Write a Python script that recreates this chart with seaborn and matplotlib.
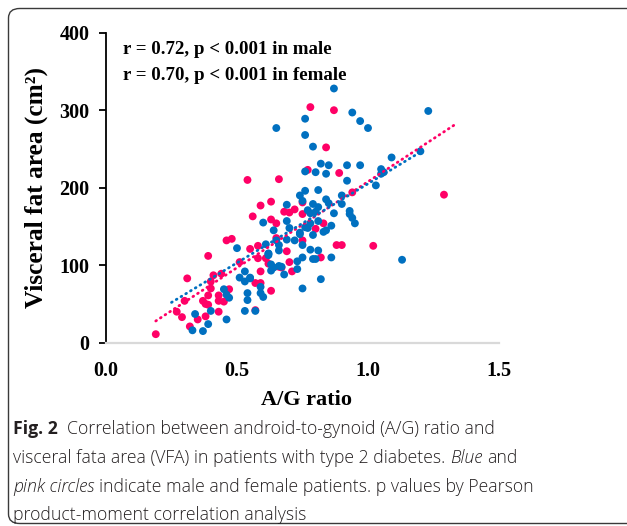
import numpy as np
import pandas as pd
import matplotlib
matplotlib.use("Agg")
import matplotlib.pyplot as plt
import seaborn as sns
from matplotlib.patches import FancyBboxPatch

# ---------------- data ----------------
male_ag = [0.33, 0.34, 0.37, 0.39, 0.40, 0.45, 0.46, 0.46, 0.47, 0.50,
           0.51, 0.53, 0.53, 0.53, 0.54, 0.54, 0.55, 0.55, 0.57, 0.59,
           0.59, 0.60, 0.60, 0.61, 0.62, 0.62, 0.62, 0.63, 0.63, 0.64,
           0.64, 0.65, 0.65, 0.66, 0.66, 0.66, 0.67, 0.68, 0.69, 0.69,
           0.69, 0.70, 0.72, 0.73, 0.73, 0.74, 0.74, 0.74, 0.75, 0.75,
           0.75, 0.75, 0.76, 0.76, 0.76, 0.76, 0.76, 0.77, 0.77, 0.78,
           0.78, 0.78, 0.79, 0.79, 0.79, 0.79, 0.80, 0.80, 0.80, 0.81,
           0.81, 0.81, 0.81, 0.82, 0.82, 0.83, 0.84, 0.84, 0.84, 0.85,
           0.85, 0.86, 0.86, 0.87, 0.87, 0.90, 0.90, 0.92, 0.92, 0.93,
           0.94, 0.93, 0.95, 0.94, 0.97, 0.97, 1.00, 1.03, 1.05, 1.05,
           1.06, 1.09, 1.13, 1.20, 1.23]
male_vfa = [16, 37, 15, 24, 41, 69, 62, 30, 58, 122,
            84, 41, 79, 92, 55, 64, 84, 83, 41, 72,
            64, 59, 155, 127, 115, 113, 115, 101, 93, 145,
            97, 132, 277, 99, 126, 119, 98, 88, 178, 157,
            133, 148, 132, 105, 95, 142, 190, 140, 126, 183,
            70, 110, 149, 289, 268, 221, 196, 148, 171, 167,
            120, 154, 253, 139, 179, 108, 108, 220, 169, 175,
            119, 197, 157, 231, 82, 143, 145, 218, 185, 229,
            180, 110, 151, 328, 167, 190, 179, 229, 209, 170,
            297, 166, 154, 161, 229, 286, 277, 203, 224, 218,
            220, 239, 107, 247, 299]

female_ag = [0.19, 0.27, 0.29, 0.30, 0.31, 0.32, 0.35, 0.37, 0.38, 0.38,
             0.39, 0.39, 0.39, 0.40, 0.40, 0.41, 0.43, 0.43, 0.43, 0.45,
             0.44, 0.46, 0.48, 0.47, 0.51, 0.54, 0.55, 0.56, 0.57, 0.57,
             0.58, 0.58, 0.59, 0.59, 0.59, 0.61, 0.62, 0.63, 0.63, 0.63,
             0.65, 0.65, 0.66, 0.66, 0.67, 0.68, 0.69, 0.70, 0.70, 0.72,
             0.71, 0.75, 0.75, 0.75, 0.78, 0.77, 0.80, 0.82, 0.83, 0.84,
             0.87, 0.88, 0.90, 0.89, 0.94, 1.02, 1.29]
female_vfa = [11, 40, 33, 54, 83, 21, 30, 54, 34, 50,
              49, 112, 61, 70, 79, 87, 40, 61, 54, 53,
              89, 132, 134, 69, 104, 210, 121, 163, 77, 42,
              125, 109, 92, 177, 77, 109, 102, 182, 67, 159,
              135, 154, 98, 211, 97, 169, 118, 104, 168, 172,
              92, 132, 181, 166, 304, 223, 147, 110, 154, 252,
              300, 126, 126, 219, 194, 125, 191]

# linear trend lines as drawn in the reference (start / end values)
male_trend_ag = [0.25, 1.21]
male_trend_vfa = [52, 248]
female_trend_ag = [0.19, 1.33]
female_trend_vfa = [28, 281]

x_ticks = [0.0, 0.5, 1.0, 1.5]
x_tick_labels = ["0.0", "0.5", "1.0", "1.5"]
y_ticks = [0, 100, 200, 300, 400]
y_tick_labels = ["0", "100", "200", "300", "400"]

stat_lines = ["r = 0.72, p < 0.001 in male",
              "r = 0.70, p < 0.001 in female"]

BLUE = "#0070C0"
PINK = "#FF0066"

df = pd.DataFrame({
    "ag": female_ag + male_ag,
    "vfa": female_vfa + male_vfa,
    "sex": ["Female"] * len(female_ag) + ["Male"] * len(male_ag),
})
trend_df = pd.DataFrame({
    "ag": female_trend_ag + male_trend_ag,
    "vfa": female_trend_vfa + male_trend_vfa,
    "sex": ["Female"] * 2 + ["Male"] * 2,
})

# ---------------- figure ----------------
sns.set_theme(style="white")
W, H = 627, 526
fig = plt.figure(figsize=(W / 100, H / 100), dpi=100)
fig.patch.set_facecolor("white")

# outer rounded frame
frame = FancyBboxPatch((8.5 / W, 2.5 / H), (W + 30) / W, (H - 11) / H,
                       boxstyle="round,pad=0,rounding_size=0.018",
                       transform=fig.transFigure, fill=False,
                       edgecolor="#3a3a3a", linewidth=1.0, clip_on=False)
fig.patches.append(frame)

ax = fig.add_axes([106 / W, 183.3 / H, 393 / W, 310 / H])
ax.set_facecolor("white")

sns.scatterplot(data=df, x="ag", y="vfa", hue="sex",
                palette={"Female": PINK, "Male": BLUE},
                hue_order=["Female", "Male"], s=32, linewidth=0,
                alpha=1.0, legend=False, ax=ax, zorder=3)

for sex, col in [("Female", PINK), ("Male", BLUE)]:
    sub = trend_df[trend_df["sex"] == sex]
    ax.plot(sub["ag"], sub["vfa"], color=col, linewidth=2.0,
            linestyle=(0, (0.3, 1.7)), dash_capstyle="round", zorder=4)

ax.set_xlim(0, 1.5)
ax.set_ylim(0, 400)
ax.set_xticks(x_ticks)
ax.set_xticklabels(x_tick_labels)
ax.set_yticks(y_ticks)
ax.set_yticklabels(y_tick_labels)

serif = ["Liberation Serif", "DejaVu Serif"]
for lab in ax.get_xticklabels() + ax.get_yticklabels():
    lab.set_fontfamily(serif)
    lab.set_fontweight("bold")
    lab.set_fontsize(14.5)
    lab.set_color("black")

ax.tick_params(axis="y", direction="out", length=5, width=1.3,
               color="black", left=True, pad=7)
ax.tick_params(axis="x", length=0, pad=13)

for side in ["top", "right"]:
    ax.spines[side].set_visible(False)
ax.spines["left"].set_color("black")
ax.spines["left"].set_linewidth(1.3)
ax.spines["bottom"].set_color("#d9d9d9")
ax.spines["bottom"].set_linewidth(1.6)
ax.grid(False)

ax.set_xlabel("A/G ratio", fontfamily=serif, fontweight="bold",
              fontsize=16, color="black")
ax.set_ylabel("Visceral fat area (cm²)", fontfamily=serif,
              fontweight="bold", fontsize=18.3, color="black")
ax.xaxis.set_label_coords(0.511, -0.153)
ax.yaxis.set_label_coords(-0.148, 0.5)

ax.text(0.043, 0.945, stat_lines[0], transform=ax.transAxes,
        fontfamily=serif, fontweight="bold", fontsize=13.6, va="center",
        ha="left", color="black")
ax.text(0.043, 0.862, stat_lines[1], transform=ax.transAxes,
        fontfamily=serif, fontweight="bold", fontsize=13.6, va="center",
        ha="left", color="black")

# ---------------- caption ----------------
cap_font = ["Open Sans", "DejaVu Sans"]
cap_size = 12.7
cap_color = "#231f20"
renderer = fig.canvas.get_renderer()


def text_width(s, **kw):
    t = fig.text(0, 0, s, fontfamily=cap_font, fontsize=cap_size, **kw)
    w = t.get_window_extent(renderer=renderer).width
    t.remove()
    return w


space_w = text_width("a a") - text_width("aa")


def draw_line(segments, x_px, baseline_px):
    x = x_px
    for i, (s, kw) in enumerate(segments):
        if s == "":
            x += space_w
            continue
        style = {"fontweight": "light"}
        style.update(kw)
        t = fig.text(x / W, 1 - baseline_px / H, s, fontfamily=cap_font,
                     fontsize=cap_size, color=cap_color, va="baseline",
                     ha="left", **style)
        x = t.get_window_extent(renderer=renderer).x1
        if i < len(segments) - 1:
            x += space_w


caption = [
    [("Fig. 2", {"fontweight": "bold"}), ("", {}),
     ("Correlation between android-to-gynoid (A/G) ratio and", {})],
    [("visceral fata area (VFA) in patients with type 2 diabetes.", {}),
     ("Blue", {"fontstyle": "italic"}), ("and", {})],
    [("pink circles", {"fontstyle": "italic"}),
     ("indicate male and female patients. p values by Pearson", {})],
    [("product-moment correlation analysis", {})],
]
baselines = [434, 463, 492, 520]
for segs, bl in zip(caption, baselines):
    draw_line(segs, 13, bl)

fig.savefig("out.png", dpi=100, facecolor="white")
